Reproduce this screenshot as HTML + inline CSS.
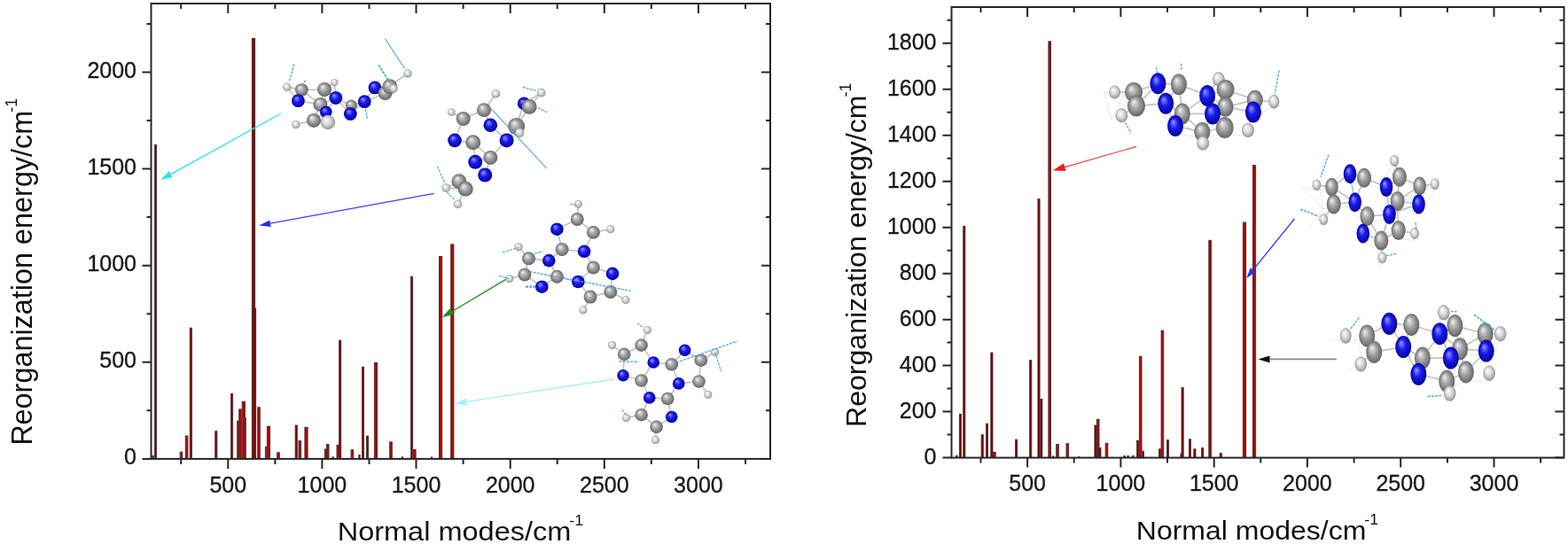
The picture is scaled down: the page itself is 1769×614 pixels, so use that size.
<!DOCTYPE html>
<html><head><meta charset="utf-8"><title>Reorganization energy</title>
<style>html,body{margin:0;padding:0;background:#fff}svg{display:block}</style>
</head><body>
<svg width="1769" height="614" viewBox="0 0 1769 614">
<defs>
<radialGradient id="gC" cx="0.5" cy="0.5" r="0.55" fx="0.35" fy="0.3">
<stop offset="0" stop-color="#f2f2f2"/><stop offset="0.45" stop-color="#a4a4a4"/><stop offset="1" stop-color="#5c5c5c"/></radialGradient>
<radialGradient id="gN" cx="0.5" cy="0.5" r="0.55" fx="0.35" fy="0.3">
<stop offset="0" stop-color="#9a9aff"/><stop offset="0.45" stop-color="#1a1af0"/><stop offset="1" stop-color="#00008c"/></radialGradient>
<radialGradient id="gH" cx="0.5" cy="0.5" r="0.55" fx="0.35" fy="0.3">
<stop offset="0" stop-color="#ffffff"/><stop offset="0.5" stop-color="#d8d8d8"/><stop offset="1" stop-color="#8a8a8a"/></radialGradient>
</defs>
<rect width="100%" height="100%" fill="#fff"/>
<style>.t{font-family:"Liberation Sans",Arial,sans-serif;font-size:25px;fill:#1a1a1a;stroke:#1a1a1a;stroke-width:0.35px}.ti{font-family:"Liberation Sans",Arial,sans-serif;font-size:32.5px;fill:#111}.sp{font-size:18px}.b{fill:#b80000;stroke:#4a3434;stroke-width:1}.bd{fill:#8a0404;stroke:#4a2828;stroke-width:1}.bn{fill:#7a0606;stroke:#4a2a2a;stroke-width:0.8}</style>
<rect x="171.80" y="514.40" width="1.40" height="3.50" class="bn"/>
<rect x="174.40" y="163.40" width="2.20" height="354.50" class="bn"/>
<rect x="203.20" y="510.20" width="2.60" height="7.70" class="b"/>
<rect x="209.30" y="492.00" width="2.60" height="25.90" class="b"/>
<rect x="214.20" y="370.10" width="2.20" height="147.80" class="bn"/>
<rect x="242.70" y="486.70" width="2.20" height="31.20" class="bn"/>
<rect x="260.50" y="444.30" width="2.20" height="73.60" class="bn"/>
<rect x="267.70" y="475.20" width="2.60" height="42.70" class="b"/>
<rect x="269.70" y="461.90" width="2.60" height="56.00" class="b"/>
<rect x="273.20" y="453.30" width="3.20" height="64.60" class="b"/>
<rect x="274.70" y="471.50" width="2.60" height="46.40" class="b"/>
<rect x="284.40" y="43.50" width="3.20" height="474.40" class="bd"/>
<rect x="285.40" y="348.00" width="3.20" height="169.90" class="bd"/>
<rect x="290.70" y="459.80" width="2.60" height="58.10" class="b"/>
<rect x="299.30" y="504.20" width="1.40" height="13.70" class="bn"/>
<rect x="301.40" y="481.20" width="3.20" height="36.70" class="b"/>
<rect x="312.70" y="510.80" width="2.60" height="7.10" class="b"/>
<rect x="333.10" y="480.00" width="2.20" height="37.90" class="bn"/>
<rect x="337.00" y="497.60" width="2.60" height="20.30" class="b"/>
<rect x="343.90" y="482.30" width="3.20" height="35.60" class="b"/>
<rect x="366.30" y="507.00" width="2.60" height="10.90" class="b"/>
<rect x="368.40" y="501.60" width="2.60" height="16.30" class="b"/>
<rect x="374.90" y="515.80" width="1.40" height="2.10" class="bn"/>
<rect x="380.00" y="502.40" width="2.60" height="15.50" class="b"/>
<rect x="382.60" y="384.10" width="2.20" height="133.80" class="bn"/>
<rect x="396.10" y="507.80" width="2.60" height="10.10" class="b"/>
<rect x="404.80" y="513.60" width="1.40" height="4.30" class="bn"/>
<rect x="408.40" y="414.20" width="2.20" height="103.70" class="bn"/>
<rect x="413.50" y="492.10" width="2.20" height="25.80" class="bn"/>
<rect x="422.40" y="409.40" width="3.20" height="108.50" class="b"/>
<rect x="439.70" y="498.90" width="2.60" height="19.00" class="b"/>
<rect x="453.20" y="515.80" width="1.40" height="2.10" class="bn"/>
<rect x="463.50" y="312.10" width="2.20" height="205.80" class="bn"/>
<rect x="466.50" y="507.50" width="2.60" height="10.40" class="b"/>
<rect x="486.30" y="515.90" width="1.40" height="2.00" class="bn"/>
<rect x="495.50" y="289.50" width="3.20" height="228.40" class="b"/>
<rect x="508.70" y="275.90" width="3.20" height="242.00" class="b"/>
<rect x="170.5" y="4.0" width="698.5" height="513.9" fill="none" stroke="#262626" stroke-width="2"/>
<path d="M257.3 517.9v11M257.3 4.0v11M363.4 517.9v11M363.4 4.0v11M469.5 517.9v11M469.5 4.0v11M575.7 517.9v11M575.7 4.0v11M681.8 517.9v11M681.8 4.0v11M787.9 517.9v11M787.9 4.0v11M204.2 517.9v6M204.2 4.0v6M310.4 517.9v6M310.4 4.0v6M416.5 517.9v6M416.5 4.0v6M522.6 517.9v6M522.6 4.0v6M628.7 517.9v6M628.7 4.0v6M734.8 517.9v6M734.8 4.0v6M841.0 517.9v6M841.0 4.0v6M170.5 517.9h-10M869.0 517.9h-10M170.5 408.8h-10M869.0 408.8h-10M170.5 299.7h-10M869.0 299.7h-10M170.5 190.6h-10M869.0 190.6h-10M170.5 81.5h-10M869.0 81.5h-10M170.5 463.3h-5M869.0 463.3h-5M170.5 354.2h-5M869.0 354.2h-5M170.5 245.1h-5M869.0 245.1h-5M170.5 136.0h-5M869.0 136.0h-5M170.5 26.9h-5M869.0 26.9h-5" stroke="#262626" stroke-width="2" fill="none"/>
<text x="257.3" y="555.7" text-anchor="middle" class="t">500</text>
<text x="363.4" y="555.7" text-anchor="middle" class="t">1000</text>
<text x="469.5" y="555.7" text-anchor="middle" class="t">1500</text>
<text x="575.7" y="555.7" text-anchor="middle" class="t">2000</text>
<text x="681.8" y="555.7" text-anchor="middle" class="t">2500</text>
<text x="787.9" y="555.7" text-anchor="middle" class="t">3000</text>
<text x="154" y="524.1" text-anchor="end" class="t">0</text>
<text x="154" y="415.0" text-anchor="end" class="t">500</text>
<text x="154" y="305.9" text-anchor="end" class="t">1000</text>
<text x="154" y="196.8" text-anchor="end" class="t">1500</text>
<text x="154" y="87.7" text-anchor="end" class="t">2000</text>
<rect x="1078.70" y="514.10" width="1.40" height="2.50" class="bn"/>
<rect x="1082.30" y="467.30" width="2.20" height="49.30" class="bn"/>
<rect x="1086.70" y="255.20" width="2.20" height="261.40" class="bn"/>
<rect x="1107.10" y="490.70" width="2.20" height="25.90" class="bn"/>
<rect x="1112.40" y="478.10" width="2.20" height="38.50" class="bn"/>
<rect x="1117.80" y="398.00" width="2.20" height="118.60" class="bn"/>
<rect x="1120.00" y="510.50" width="3.20" height="6.10" class="b"/>
<rect x="1145.50" y="496.10" width="2.20" height="20.50" class="bn"/>
<rect x="1161.60" y="406.60" width="2.20" height="110.00" class="bn"/>
<rect x="1170.90" y="224.60" width="2.20" height="292.00" class="bn"/>
<rect x="1173.70" y="450.40" width="2.20" height="66.20" class="bn"/>
<rect x="1182.90" y="46.80" width="2.60" height="469.80" class="b"/>
<rect x="1187.50" y="514.90" width="1.40" height="1.70" class="bn"/>
<rect x="1191.70" y="501.50" width="2.60" height="15.10" class="b"/>
<rect x="1203.00" y="500.70" width="2.60" height="15.90" class="b"/>
<rect x="1216.50" y="515.70" width="1.40" height="0.90" class="bn"/>
<rect x="1234.90" y="480.00" width="2.20" height="36.60" class="bn"/>
<rect x="1237.40" y="473.30" width="2.60" height="43.30" class="b"/>
<rect x="1239.80" y="505.40" width="2.20" height="11.20" class="bn"/>
<rect x="1247.20" y="500.30" width="2.60" height="16.30" class="b"/>
<rect x="1267.90" y="514.40" width="1.40" height="2.20" class="bn"/>
<rect x="1271.90" y="514.40" width="1.40" height="2.20" class="bn"/>
<rect x="1277.60" y="514.40" width="1.40" height="2.20" class="bn"/>
<rect x="1282.60" y="497.20" width="2.20" height="19.40" class="bn"/>
<rect x="1285.40" y="402.30" width="2.60" height="114.30" class="b"/>
<rect x="1288.80" y="509.20" width="1.80" height="7.40" class="bn"/>
<rect x="1307.60" y="506.80" width="2.20" height="9.80" class="bn"/>
<rect x="1310.10" y="373.10" width="2.60" height="143.50" class="b"/>
<rect x="1316.40" y="496.60" width="2.20" height="20.00" class="bn"/>
<rect x="1331.90" y="512.20" width="1.40" height="4.40" class="bn"/>
<rect x="1333.00" y="437.50" width="2.20" height="79.10" class="bn"/>
<rect x="1341.40" y="495.70" width="2.20" height="20.90" class="bn"/>
<rect x="1346.80" y="506.80" width="2.20" height="9.80" class="bn"/>
<rect x="1355.60" y="505.60" width="2.20" height="11.00" class="bn"/>
<rect x="1363.80" y="271.30" width="2.60" height="245.30" class="b"/>
<rect x="1376.10" y="511.60" width="2.20" height="5.00" class="bn"/>
<rect x="1402.40" y="251.10" width="3.20" height="265.50" class="b"/>
<rect x="1413.40" y="186.70" width="3.20" height="329.90" class="b"/>
<rect x="1073.5" y="8.0" width="691.0" height="508.6" fill="none" stroke="#262626" stroke-width="2"/>
<path d="M1159.1 516.6v11M1159.1 8.0v11M1264.4 516.6v11M1264.4 8.0v11M1369.7 516.6v11M1369.7 8.0v11M1474.9 516.6v11M1474.9 8.0v11M1580.2 516.6v11M1580.2 8.0v11M1685.5 516.6v11M1685.5 8.0v11M1106.5 516.6v6M1106.5 8.0v6M1211.7 516.6v6M1211.7 8.0v6M1317.0 516.6v6M1317.0 8.0v6M1422.3 516.6v6M1422.3 8.0v6M1527.6 516.6v6M1527.6 8.0v6M1632.9 516.6v6M1632.9 8.0v6M1738.1 516.6v6M1738.1 8.0v6M1073.5 516.6h-10M1764.5 516.6h-10M1073.5 464.6h-10M1764.5 464.6h-10M1073.5 412.6h-10M1764.5 412.6h-10M1073.5 360.7h-10M1764.5 360.7h-10M1073.5 308.7h-10M1764.5 308.7h-10M1073.5 256.7h-10M1764.5 256.7h-10M1073.5 204.7h-10M1764.5 204.7h-10M1073.5 152.7h-10M1764.5 152.7h-10M1073.5 100.8h-10M1764.5 100.8h-10M1073.5 48.8h-10M1764.5 48.8h-10M1073.5 490.6h-5M1764.5 490.6h-5M1073.5 438.6h-5M1764.5 438.6h-5M1073.5 386.6h-5M1764.5 386.6h-5M1073.5 334.7h-5M1764.5 334.7h-5M1073.5 282.7h-5M1764.5 282.7h-5M1073.5 230.7h-5M1764.5 230.7h-5M1073.5 178.7h-5M1764.5 178.7h-5M1073.5 126.8h-5M1764.5 126.8h-5M1073.5 74.8h-5M1764.5 74.8h-5M1073.5 22.8h-5M1764.5 22.8h-5" stroke="#262626" stroke-width="2" fill="none"/>
<text x="1159.1" y="554.4" text-anchor="middle" class="t">500</text>
<text x="1264.4" y="554.4" text-anchor="middle" class="t">1000</text>
<text x="1369.7" y="554.4" text-anchor="middle" class="t">1500</text>
<text x="1474.9" y="554.4" text-anchor="middle" class="t">2000</text>
<text x="1580.2" y="554.4" text-anchor="middle" class="t">2500</text>
<text x="1685.5" y="554.4" text-anchor="middle" class="t">3000</text>
<text x="1056.5" y="523.9" text-anchor="end" class="t">0</text>
<text x="1056.5" y="471.9" text-anchor="end" class="t">200</text>
<text x="1056.5" y="419.9" text-anchor="end" class="t">400</text>
<text x="1056.5" y="368.0" text-anchor="end" class="t">600</text>
<text x="1056.5" y="316.0" text-anchor="end" class="t">800</text>
<text x="1056.5" y="264.0" text-anchor="end" class="t">1000</text>
<text x="1056.5" y="212.0" text-anchor="end" class="t">1200</text>
<text x="1056.5" y="160.0" text-anchor="end" class="t">1400</text>
<text x="1056.5" y="108.1" text-anchor="end" class="t">1600</text>
<text x="1056.5" y="56.1" text-anchor="end" class="t">1800</text>
<text transform="translate(380.7,610) scale(1,0.91)" class="ti">Normal modes/cm<tspan dx="-2" dy="-18.7" class="sp">-1</tspan></text>
<text transform="translate(1281.8,609) scale(1,0.92)" class="ti" style="font-size:32px">Normal modes/cm<tspan dx="-2" dy="-18.5" class="sp">-1</tspan></text>
<text transform="translate(36.2,502.8) rotate(-90)" class="ti" style="font-size:32.4px">Reorganization energy/cm<tspan dx="-2" dy="-17" class="sp">-1</tspan></text>
<text transform="translate(977.2,482) rotate(-90)" class="ti" style="font-size:32.1px">Reorganization energy/cm<tspan dx="-2" dy="-17" class="sp">-1</tspan></text>
<line x1="460.0" y1="83.0" x2="441.0" y2="96.0" stroke="#c4c4c4" stroke-width="1.7" />
<line x1="323.7" y1="98.2" x2="340.3" y2="101.6" stroke="#c4c4c4" stroke-width="1.7"/>
<line x1="323.7" y1="98.2" x2="336.4" y2="113.7" stroke="#c4c4c4" stroke-width="1.7"/>
<line x1="340.3" y1="101.6" x2="336.4" y2="113.7" stroke="#c4c4c4" stroke-width="1.7"/>
<line x1="340.3" y1="101.6" x2="366.1" y2="101.0" stroke="#c4c4c4" stroke-width="1.7"/>
<line x1="340.3" y1="101.6" x2="361.4" y2="117.9" stroke="#c4c4c4" stroke-width="1.7"/>
<line x1="336.4" y1="113.7" x2="361.4" y2="117.9" stroke="#c4c4c4" stroke-width="1.7"/>
<line x1="366.1" y1="101.0" x2="377.3" y2="93.1" stroke="#c4c4c4" stroke-width="1.7"/>
<line x1="366.1" y1="101.0" x2="378.8" y2="110.5" stroke="#c4c4c4" stroke-width="1.7"/>
<line x1="366.1" y1="101.0" x2="361.4" y2="117.9" stroke="#c4c4c4" stroke-width="1.7"/>
<line x1="366.1" y1="101.0" x2="367.8" y2="126.4" stroke="#c4c4c4" stroke-width="1.7"/>
<line x1="377.3" y1="93.1" x2="378.8" y2="110.5" stroke="#c4c4c4" stroke-width="1.7"/>
<line x1="378.8" y1="110.5" x2="361.4" y2="117.9" stroke="#c4c4c4" stroke-width="1.7"/>
<line x1="378.8" y1="110.5" x2="367.8" y2="126.4" stroke="#c4c4c4" stroke-width="1.7"/>
<line x1="378.8" y1="110.5" x2="396.4" y2="119.0" stroke="#c4c4c4" stroke-width="1.7"/>
<line x1="378.8" y1="110.5" x2="395.3" y2="128.5" stroke="#c4c4c4" stroke-width="1.7"/>
<line x1="361.4" y1="117.9" x2="367.8" y2="126.4" stroke="#c4c4c4" stroke-width="1.7"/>
<line x1="361.4" y1="117.9" x2="354.0" y2="135.9" stroke="#c4c4c4" stroke-width="1.7"/>
<line x1="361.4" y1="117.9" x2="369.9" y2="138.0" stroke="#c4c4c4" stroke-width="1.7"/>
<line x1="367.8" y1="126.4" x2="354.0" y2="135.9" stroke="#c4c4c4" stroke-width="1.7"/>
<line x1="367.8" y1="126.4" x2="369.9" y2="138.0" stroke="#c4c4c4" stroke-width="1.7"/>
<line x1="354.0" y1="135.9" x2="333.9" y2="140.6" stroke="#c4c4c4" stroke-width="1.7"/>
<line x1="354.0" y1="135.9" x2="369.9" y2="138.0" stroke="#c4c4c4" stroke-width="1.7"/>
<line x1="396.4" y1="119.0" x2="395.3" y2="128.5" stroke="#c4c4c4" stroke-width="1.7"/>
<line x1="396.4" y1="119.0" x2="411.2" y2="114.7" stroke="#c4c4c4" stroke-width="1.7"/>
<line x1="395.3" y1="128.5" x2="411.2" y2="114.7" stroke="#c4c4c4" stroke-width="1.7"/>
<line x1="411.2" y1="114.7" x2="422.9" y2="98.9" stroke="#c4c4c4" stroke-width="1.7"/>
<line x1="411.2" y1="114.7" x2="434.5" y2="105.2" stroke="#c4c4c4" stroke-width="1.7"/>
<line x1="422.9" y1="98.9" x2="434.5" y2="105.2" stroke="#c4c4c4" stroke-width="1.7"/>
<line x1="422.9" y1="98.9" x2="439.8" y2="97.8" stroke="#c4c4c4" stroke-width="1.7"/>
<line x1="422.9" y1="98.9" x2="444.0" y2="100.0" stroke="#c4c4c4" stroke-width="1.7"/>
<line x1="434.5" y1="105.2" x2="439.8" y2="97.8" stroke="#c4c4c4" stroke-width="1.7"/>
<line x1="434.5" y1="105.2" x2="444.0" y2="100.0" stroke="#c4c4c4" stroke-width="1.7"/>
<line x1="439.8" y1="97.8" x2="444.0" y2="100.0" stroke="#c4c4c4" stroke-width="1.7"/>
<circle cx="323.7" cy="98.2" r="4.7" fill="url(#gH)"/>
<circle cx="340.3" cy="101.6" r="7.4" fill="url(#gC)"/>
<circle cx="336.4" cy="113.7" r="7.4" fill="url(#gN)"/>
<circle cx="366.1" cy="101.0" r="8.0" fill="url(#gC)"/>
<circle cx="377.3" cy="93.1" r="4.2" fill="url(#gH)"/>
<circle cx="378.8" cy="110.5" r="7.4" fill="url(#gN)"/>
<circle cx="361.4" cy="117.9" r="8.0" fill="url(#gC)"/>
<circle cx="367.8" cy="126.4" r="6.8" fill="url(#gN)"/>
<circle cx="354.0" cy="135.9" r="8.0" fill="url(#gC)"/>
<circle cx="333.9" cy="140.6" r="4.7" fill="url(#gH)"/>
<circle cx="369.9" cy="138.0" r="8.2" fill="url(#gH)"/>
<circle cx="396.4" cy="119.0" r="6.5" fill="url(#gC)"/>
<circle cx="395.3" cy="128.5" r="7.4" fill="url(#gN)"/>
<circle cx="411.2" cy="114.7" r="7.4" fill="url(#gN)"/>
<circle cx="422.9" cy="98.9" r="7.4" fill="url(#gN)"/>
<circle cx="434.5" cy="105.2" r="8.0" fill="url(#gC)"/>
<circle cx="439.8" cy="97.8" r="8.5" fill="url(#gC)"/>
<circle cx="444.0" cy="100.0" r="4.7" fill="url(#gH)"/>
<circle cx="460.0" cy="83.0" r="4.7" fill="url(#gH)"/>
<line x1="559.4" y1="105.9" x2="546.0" y2="124.2" stroke="#c4c4c4" stroke-width="1.7"/>
<line x1="509.3" y1="126.6" x2="522.7" y2="134.0" stroke="#c4c4c4" stroke-width="1.7"/>
<line x1="522.7" y1="134.0" x2="546.0" y2="124.2" stroke="#c4c4c4" stroke-width="1.7"/>
<line x1="522.7" y1="134.0" x2="513.0" y2="158.4" stroke="#c4c4c4" stroke-width="1.7"/>
<line x1="546.0" y1="124.2" x2="553.3" y2="141.3" stroke="#c4c4c4" stroke-width="1.7"/>
<line x1="553.3" y1="141.3" x2="571.6" y2="158.4" stroke="#c4c4c4" stroke-width="1.7"/>
<line x1="582.6" y1="142.5" x2="586.3" y2="149.8" stroke="#c4c4c4" stroke-width="1.7"/>
<line x1="582.6" y1="142.5" x2="591.1" y2="116.9" stroke="#c4c4c4" stroke-width="1.7"/>
<line x1="582.6" y1="142.5" x2="597.2" y2="120.5" stroke="#c4c4c4" stroke-width="1.7"/>
<line x1="582.6" y1="142.5" x2="571.6" y2="158.4" stroke="#c4c4c4" stroke-width="1.7"/>
<line x1="586.3" y1="149.8" x2="571.6" y2="158.4" stroke="#c4c4c4" stroke-width="1.7"/>
<line x1="591.1" y1="116.9" x2="597.2" y2="120.5" stroke="#c4c4c4" stroke-width="1.7"/>
<line x1="591.1" y1="116.9" x2="610.7" y2="104.7" stroke="#c4c4c4" stroke-width="1.7"/>
<line x1="597.2" y1="120.5" x2="610.7" y2="104.7" stroke="#c4c4c4" stroke-width="1.7"/>
<line x1="513.0" y1="158.4" x2="533.7" y2="160.8" stroke="#c4c4c4" stroke-width="1.7"/>
<line x1="533.7" y1="160.8" x2="553.3" y2="177.9" stroke="#c4c4c4" stroke-width="1.7"/>
<line x1="533.7" y1="160.8" x2="536.2" y2="182.8" stroke="#c4c4c4" stroke-width="1.7"/>
<line x1="571.6" y1="158.4" x2="553.3" y2="177.9" stroke="#c4c4c4" stroke-width="1.7"/>
<line x1="553.3" y1="177.9" x2="536.2" y2="182.8" stroke="#c4c4c4" stroke-width="1.7"/>
<line x1="553.3" y1="177.9" x2="547.2" y2="197.5" stroke="#c4c4c4" stroke-width="1.7"/>
<line x1="536.2" y1="182.8" x2="547.2" y2="197.5" stroke="#c4c4c4" stroke-width="1.7"/>
<line x1="517.9" y1="204.8" x2="525.2" y2="213.3" stroke="#c4c4c4" stroke-width="1.7"/>
<line x1="517.9" y1="204.8" x2="503.2" y2="212.1" stroke="#c4c4c4" stroke-width="1.7"/>
<line x1="525.2" y1="213.3" x2="503.2" y2="212.1" stroke="#c4c4c4" stroke-width="1.7"/>
<line x1="525.2" y1="213.3" x2="516.6" y2="230.4" stroke="#c4c4c4" stroke-width="1.7"/>
<circle cx="559.4" cy="105.9" r="4.9" fill="url(#gH)"/>
<circle cx="509.3" cy="126.6" r="4.4" fill="url(#gH)"/>
<circle cx="522.7" cy="134.0" r="8.0" fill="url(#gC)"/>
<circle cx="546.0" cy="124.2" r="8.0" fill="url(#gC)"/>
<circle cx="553.3" cy="141.3" r="7.8" fill="url(#gN)"/>
<circle cx="582.6" cy="142.5" r="9.5" fill="url(#gC)"/>
<circle cx="586.3" cy="149.8" r="5.2" fill="url(#gH)"/>
<circle cx="591.1" cy="116.9" r="7.3" fill="url(#gN)"/>
<circle cx="597.2" cy="120.5" r="8.5" fill="url(#gC)"/>
<circle cx="610.7" cy="104.7" r="4.9" fill="url(#gH)"/>
<circle cx="513.0" cy="158.4" r="7.8" fill="url(#gN)"/>
<circle cx="533.7" cy="160.8" r="8.5" fill="url(#gC)"/>
<circle cx="571.6" cy="158.4" r="8.0" fill="url(#gN)"/>
<circle cx="553.3" cy="177.9" r="8.0" fill="url(#gC)"/>
<circle cx="536.2" cy="182.8" r="8.0" fill="url(#gN)"/>
<circle cx="547.2" cy="197.5" r="8.0" fill="url(#gN)"/>
<circle cx="517.9" cy="204.8" r="8.5" fill="url(#gC)"/>
<circle cx="525.2" cy="213.3" r="8.5" fill="url(#gC)"/>
<circle cx="503.2" cy="212.1" r="4.9" fill="url(#gH)"/>
<circle cx="516.6" cy="230.4" r="4.9" fill="url(#gH)"/>
<line x1="652.3" y1="230.3" x2="651.2" y2="247.4" stroke="#c4c4c4" stroke-width="1.7"/>
<line x1="651.2" y1="247.4" x2="628.4" y2="258.7" stroke="#c4c4c4" stroke-width="1.7"/>
<line x1="651.2" y1="247.4" x2="669.4" y2="262.2" stroke="#c4c4c4" stroke-width="1.7"/>
<line x1="628.4" y1="258.7" x2="634.1" y2="281.5" stroke="#c4c4c4" stroke-width="1.7"/>
<line x1="669.4" y1="262.2" x2="688.8" y2="258.7" stroke="#c4c4c4" stroke-width="1.7"/>
<line x1="669.4" y1="262.2" x2="659.1" y2="283.8" stroke="#c4c4c4" stroke-width="1.7"/>
<line x1="634.1" y1="281.5" x2="659.1" y2="283.8" stroke="#c4c4c4" stroke-width="1.7"/>
<line x1="634.1" y1="281.5" x2="619.3" y2="294.1" stroke="#c4c4c4" stroke-width="1.7"/>
<line x1="659.1" y1="283.8" x2="669.4" y2="302.0" stroke="#c4c4c4" stroke-width="1.7"/>
<line x1="585.1" y1="278.8" x2="596.5" y2="291.8" stroke="#c4c4c4" stroke-width="1.7"/>
<line x1="596.5" y1="291.8" x2="619.3" y2="294.1" stroke="#c4c4c4" stroke-width="1.7"/>
<line x1="596.5" y1="291.8" x2="591.9" y2="310.0" stroke="#c4c4c4" stroke-width="1.7"/>
<line x1="619.3" y1="294.1" x2="628.4" y2="312.3" stroke="#c4c4c4" stroke-width="1.7"/>
<line x1="669.4" y1="302.0" x2="691.0" y2="308.9" stroke="#c4c4c4" stroke-width="1.7"/>
<line x1="669.4" y1="302.0" x2="652.3" y2="318.0" stroke="#c4c4c4" stroke-width="1.7"/>
<line x1="691.0" y1="308.9" x2="688.8" y2="329.4" stroke="#c4c4c4" stroke-width="1.7"/>
<line x1="591.9" y1="310.0" x2="574.8" y2="314.6" stroke="#c4c4c4" stroke-width="1.7"/>
<line x1="591.9" y1="310.0" x2="611.3" y2="323.7" stroke="#c4c4c4" stroke-width="1.7"/>
<line x1="628.4" y1="312.3" x2="652.3" y2="318.0" stroke="#c4c4c4" stroke-width="1.7"/>
<line x1="628.4" y1="312.3" x2="611.3" y2="323.7" stroke="#c4c4c4" stroke-width="1.7"/>
<line x1="652.3" y1="318.0" x2="666.0" y2="335.1" stroke="#c4c4c4" stroke-width="1.7"/>
<line x1="666.0" y1="335.1" x2="688.8" y2="329.4" stroke="#c4c4c4" stroke-width="1.7"/>
<line x1="666.0" y1="335.1" x2="658.0" y2="349.9" stroke="#c4c4c4" stroke-width="1.7"/>
<line x1="688.8" y1="329.4" x2="705.9" y2="338.5" stroke="#c4c4c4" stroke-width="1.7"/>
<circle cx="652.3" cy="230.3" r="4.6" fill="url(#gH)"/>
<circle cx="651.2" cy="247.4" r="7.5" fill="url(#gC)"/>
<circle cx="628.4" cy="258.7" r="7.3" fill="url(#gN)"/>
<circle cx="669.4" cy="262.2" r="7.5" fill="url(#gC)"/>
<circle cx="688.8" cy="258.7" r="4.6" fill="url(#gH)"/>
<circle cx="634.1" cy="281.5" r="7.5" fill="url(#gC)"/>
<circle cx="659.1" cy="283.8" r="7.3" fill="url(#gN)"/>
<circle cx="585.1" cy="278.8" r="4.6" fill="url(#gH)"/>
<circle cx="596.5" cy="291.8" r="7.5" fill="url(#gC)"/>
<circle cx="619.3" cy="294.1" r="7.3" fill="url(#gN)"/>
<circle cx="669.4" cy="302.0" r="7.5" fill="url(#gC)"/>
<circle cx="691.0" cy="308.9" r="7.3" fill="url(#gN)"/>
<circle cx="591.9" cy="310.0" r="7.5" fill="url(#gC)"/>
<circle cx="574.8" cy="314.6" r="4.6" fill="url(#gH)"/>
<circle cx="628.4" cy="312.3" r="7.5" fill="url(#gC)"/>
<circle cx="652.3" cy="318.0" r="7.3" fill="url(#gN)"/>
<circle cx="611.3" cy="323.7" r="7.3" fill="url(#gN)"/>
<circle cx="666.0" cy="335.1" r="7.5" fill="url(#gC)"/>
<circle cx="688.8" cy="329.4" r="7.5" fill="url(#gC)"/>
<circle cx="705.9" cy="338.5" r="4.6" fill="url(#gH)"/>
<circle cx="658.0" cy="349.9" r="4.6" fill="url(#gH)"/>
<line x1="730.4" y1="372.5" x2="723.6" y2="389.6" stroke="#c4c4c4" stroke-width="1.7"/>
<line x1="690.5" y1="389.6" x2="704.2" y2="399.9" stroke="#c4c4c4" stroke-width="1.7"/>
<line x1="723.6" y1="389.6" x2="704.2" y2="399.9" stroke="#c4c4c4" stroke-width="1.7"/>
<line x1="723.6" y1="389.6" x2="737.2" y2="409.0" stroke="#c4c4c4" stroke-width="1.7"/>
<line x1="704.2" y1="399.9" x2="703.0" y2="423.8" stroke="#c4c4c4" stroke-width="1.7"/>
<line x1="772.6" y1="395.3" x2="757.7" y2="411.3" stroke="#c4c4c4" stroke-width="1.7"/>
<line x1="772.6" y1="395.3" x2="790.8" y2="406.7" stroke="#c4c4c4" stroke-width="1.7"/>
<line x1="737.2" y1="409.0" x2="757.7" y2="411.3" stroke="#c4c4c4" stroke-width="1.7"/>
<line x1="737.2" y1="409.0" x2="723.6" y2="429.5" stroke="#c4c4c4" stroke-width="1.7"/>
<line x1="757.7" y1="411.3" x2="765.7" y2="432.9" stroke="#c4c4c4" stroke-width="1.7"/>
<line x1="790.8" y1="406.7" x2="806.7" y2="397.6" stroke="#c4c4c4" stroke-width="1.7"/>
<line x1="790.8" y1="406.7" x2="788.5" y2="430.6" stroke="#c4c4c4" stroke-width="1.7"/>
<line x1="703.0" y1="423.8" x2="723.6" y2="429.5" stroke="#c4c4c4" stroke-width="1.7"/>
<line x1="723.6" y1="429.5" x2="732.7" y2="448.9" stroke="#c4c4c4" stroke-width="1.7"/>
<line x1="765.7" y1="432.9" x2="788.5" y2="430.6" stroke="#c4c4c4" stroke-width="1.7"/>
<line x1="765.7" y1="432.9" x2="753.2" y2="450.0" stroke="#c4c4c4" stroke-width="1.7"/>
<line x1="788.5" y1="430.6" x2="798.8" y2="445.5" stroke="#c4c4c4" stroke-width="1.7"/>
<line x1="732.7" y1="448.9" x2="753.2" y2="450.0" stroke="#c4c4c4" stroke-width="1.7"/>
<line x1="732.7" y1="448.9" x2="723.6" y2="468.2" stroke="#c4c4c4" stroke-width="1.7"/>
<line x1="753.2" y1="450.0" x2="757.7" y2="470.5" stroke="#c4c4c4" stroke-width="1.7"/>
<line x1="723.6" y1="468.2" x2="706.5" y2="471.7" stroke="#c4c4c4" stroke-width="1.7"/>
<line x1="723.6" y1="468.2" x2="740.6" y2="481.9" stroke="#c4c4c4" stroke-width="1.7"/>
<line x1="757.7" y1="470.5" x2="740.6" y2="481.9" stroke="#c4c4c4" stroke-width="1.7"/>
<line x1="740.6" y1="481.9" x2="739.5" y2="496.7" stroke="#c4c4c4" stroke-width="1.7"/>
<circle cx="730.4" cy="372.5" r="4.6" fill="url(#gH)"/>
<circle cx="690.5" cy="389.6" r="4.6" fill="url(#gH)"/>
<circle cx="723.6" cy="389.6" r="7.3" fill="url(#gC)"/>
<circle cx="704.2" cy="399.9" r="7.3" fill="url(#gC)"/>
<circle cx="772.6" cy="395.3" r="6.8" fill="url(#gN)"/>
<circle cx="737.2" cy="409.0" r="6.8" fill="url(#gN)"/>
<circle cx="757.7" cy="411.3" r="7.3" fill="url(#gC)"/>
<circle cx="790.8" cy="406.7" r="7.3" fill="url(#gC)"/>
<circle cx="806.7" cy="397.6" r="4.6" fill="url(#gH)"/>
<circle cx="703.0" cy="423.8" r="6.8" fill="url(#gN)"/>
<circle cx="723.6" cy="429.5" r="7.3" fill="url(#gC)"/>
<circle cx="765.7" cy="432.9" r="6.8" fill="url(#gN)"/>
<circle cx="788.5" cy="430.6" r="7.3" fill="url(#gC)"/>
<circle cx="798.8" cy="445.5" r="4.6" fill="url(#gH)"/>
<circle cx="732.7" cy="448.9" r="6.8" fill="url(#gN)"/>
<circle cx="753.2" cy="450.0" r="7.3" fill="url(#gC)"/>
<circle cx="723.6" cy="468.2" r="7.3" fill="url(#gC)"/>
<circle cx="706.5" cy="471.7" r="4.6" fill="url(#gH)"/>
<circle cx="757.7" cy="470.5" r="6.8" fill="url(#gN)"/>
<circle cx="740.6" cy="481.9" r="7.3" fill="url(#gC)"/>
<circle cx="739.5" cy="496.7" r="4.6" fill="url(#gH)"/>
<line x1="1245.4" y1="104.5" x2="1269.1" y2="104.5" stroke="#cfd6de" stroke-width="0.8" stroke-dasharray="2 1"/>
<line x1="1245.4" y1="104.5" x2="1272.3" y2="122.4" stroke="#cfd6de" stroke-width="0.8" stroke-dasharray="2 1"/>
<line x1="1245.4" y1="104.5" x2="1254.0" y2="134.7" stroke="#cfd6de" stroke-width="0.8" stroke-dasharray="2 1"/>
<line x1="1269.1" y1="104.5" x2="1272.3" y2="122.4" stroke="#cfd6de" stroke-width="0.8" stroke-dasharray="2 1"/>
<line x1="1269.1" y1="104.5" x2="1254.0" y2="134.7" stroke="#cfd6de" stroke-width="0.8" stroke-dasharray="2 1"/>
<line x1="1269.1" y1="104.5" x2="1299.1" y2="93.2" stroke="#cfd6de" stroke-width="0.8" stroke-dasharray="2 1"/>
<line x1="1272.3" y1="122.4" x2="1254.0" y2="134.7" stroke="#cfd6de" stroke-width="0.8" stroke-dasharray="2 1"/>
<line x1="1299.1" y1="93.2" x2="1308.8" y2="119.1" stroke="#cfd6de" stroke-width="0.8" stroke-dasharray="2 1"/>
<line x1="1299.1" y1="93.2" x2="1325.0" y2="94.4" stroke="#cfd6de" stroke-width="0.8" stroke-dasharray="2 1"/>
<line x1="1308.8" y1="119.1" x2="1325.0" y2="94.4" stroke="#cfd6de" stroke-width="0.8" stroke-dasharray="2 1"/>
<line x1="1308.8" y1="119.1" x2="1329.2" y2="132.5" stroke="#cfd6de" stroke-width="0.8" stroke-dasharray="2 1"/>
<line x1="1308.8" y1="119.1" x2="1320.7" y2="148.3" stroke="#cfd6de" stroke-width="0.8" stroke-dasharray="2 1"/>
<line x1="1329.2" y1="132.5" x2="1320.7" y2="148.3" stroke="#cfd6de" stroke-width="0.8" stroke-dasharray="2 1"/>
<line x1="1329.2" y1="132.5" x2="1354.0" y2="156.1" stroke="#cfd6de" stroke-width="0.8" stroke-dasharray="2 1"/>
<line x1="1320.7" y1="148.3" x2="1354.0" y2="156.1" stroke="#cfd6de" stroke-width="0.8" stroke-dasharray="2 1"/>
<line x1="1374.3" y1="87.6" x2="1382.9" y2="101.0" stroke="#cfd6de" stroke-width="0.8" stroke-dasharray="2 1"/>
<line x1="1374.3" y1="87.6" x2="1360.4" y2="109.0" stroke="#cfd6de" stroke-width="0.8" stroke-dasharray="2 1"/>
<line x1="1382.9" y1="101.0" x2="1360.4" y2="109.0" stroke="#cfd6de" stroke-width="0.8" stroke-dasharray="2 1"/>
<line x1="1382.9" y1="101.0" x2="1382.9" y2="123.6" stroke="#cfd6de" stroke-width="0.8" stroke-dasharray="2 1"/>
<line x1="1360.4" y1="109.0" x2="1382.9" y2="123.6" stroke="#cfd6de" stroke-width="0.8" stroke-dasharray="2 1"/>
<line x1="1360.4" y1="109.0" x2="1366.9" y2="132.5" stroke="#cfd6de" stroke-width="0.8" stroke-dasharray="2 1"/>
<line x1="1382.9" y1="123.6" x2="1366.9" y2="132.5" stroke="#cfd6de" stroke-width="0.8" stroke-dasharray="2 1"/>
<line x1="1382.9" y1="123.6" x2="1381.9" y2="150.5" stroke="#cfd6de" stroke-width="0.8" stroke-dasharray="2 1"/>
<line x1="1366.9" y1="132.5" x2="1381.9" y2="150.5" stroke="#cfd6de" stroke-width="0.8" stroke-dasharray="2 1"/>
<line x1="1366.9" y1="132.5" x2="1354.0" y2="156.1" stroke="#cfd6de" stroke-width="0.8" stroke-dasharray="2 1"/>
<line x1="1381.9" y1="150.5" x2="1354.0" y2="156.1" stroke="#cfd6de" stroke-width="0.8" stroke-dasharray="2 1"/>
<line x1="1381.9" y1="150.5" x2="1355.0" y2="170.7" stroke="#cfd6de" stroke-width="0.8" stroke-dasharray="2 1"/>
<line x1="1381.9" y1="150.5" x2="1410.9" y2="153.9" stroke="#cfd6de" stroke-width="0.8" stroke-dasharray="2 1"/>
<line x1="1354.0" y1="156.1" x2="1355.0" y2="170.7" stroke="#cfd6de" stroke-width="0.8" stroke-dasharray="2 1"/>
<line x1="1419.4" y1="114.6" x2="1417.4" y2="130.2" stroke="#cfd6de" stroke-width="0.8" stroke-dasharray="2 1"/>
<line x1="1419.4" y1="114.6" x2="1443.1" y2="116.8" stroke="#cfd6de" stroke-width="0.8" stroke-dasharray="2 1"/>
<line x1="1417.4" y1="130.2" x2="1410.9" y2="153.9" stroke="#cfd6de" stroke-width="0.8" stroke-dasharray="2 1"/>
<line x1="1417.4" y1="130.2" x2="1443.1" y2="116.8" stroke="#cfd6de" stroke-width="0.8" stroke-dasharray="2 1"/>
<line x1="1571.1" y1="181.6" x2="1577.7" y2="201.7" stroke="#cfd6de" stroke-width="0.8" stroke-dasharray="2 1"/>
<line x1="1571.1" y1="181.6" x2="1560.5" y2="214.2" stroke="#cfd6de" stroke-width="0.8" stroke-dasharray="2 1"/>
<line x1="1513.4" y1="197.8" x2="1531.8" y2="202.9" stroke="#cfd6de" stroke-width="0.8" stroke-dasharray="2 1"/>
<line x1="1513.4" y1="197.8" x2="1489.8" y2="214.2" stroke="#cfd6de" stroke-width="0.8" stroke-dasharray="2 1"/>
<line x1="1531.8" y1="202.9" x2="1560.5" y2="214.2" stroke="#cfd6de" stroke-width="0.8" stroke-dasharray="2 1"/>
<line x1="1531.8" y1="202.9" x2="1519.9" y2="233.0" stroke="#cfd6de" stroke-width="0.8" stroke-dasharray="2 1"/>
<line x1="1577.7" y1="201.7" x2="1560.5" y2="214.2" stroke="#cfd6de" stroke-width="0.8" stroke-dasharray="2 1"/>
<line x1="1577.7" y1="201.7" x2="1603.9" y2="212.9" stroke="#cfd6de" stroke-width="0.8" stroke-dasharray="2 1"/>
<line x1="1577.7" y1="201.7" x2="1575.0" y2="231.7" stroke="#cfd6de" stroke-width="0.8" stroke-dasharray="2 1"/>
<line x1="1560.5" y1="214.2" x2="1575.0" y2="231.7" stroke="#cfd6de" stroke-width="0.8" stroke-dasharray="2 1"/>
<line x1="1560.5" y1="214.2" x2="1564.6" y2="248.1" stroke="#cfd6de" stroke-width="0.8" stroke-dasharray="2 1"/>
<line x1="1603.9" y1="212.9" x2="1623.6" y2="210.4" stroke="#cfd6de" stroke-width="0.8" stroke-dasharray="2 1"/>
<line x1="1603.9" y1="212.9" x2="1575.0" y2="231.7" stroke="#cfd6de" stroke-width="0.8" stroke-dasharray="2 1"/>
<line x1="1603.9" y1="212.9" x2="1602.5" y2="235.5" stroke="#cfd6de" stroke-width="0.8" stroke-dasharray="2 1"/>
<line x1="1623.6" y1="210.4" x2="1602.5" y2="235.5" stroke="#cfd6de" stroke-width="0.8" stroke-dasharray="2 1"/>
<line x1="1470.1" y1="211.7" x2="1489.8" y2="214.2" stroke="#cfd6de" stroke-width="0.8" stroke-dasharray="2 1"/>
<line x1="1470.1" y1="211.7" x2="1492.3" y2="235.5" stroke="#cfd6de" stroke-width="0.8" stroke-dasharray="2 1"/>
<line x1="1489.8" y1="214.2" x2="1492.3" y2="235.5" stroke="#cfd6de" stroke-width="0.8" stroke-dasharray="2 1"/>
<line x1="1492.3" y1="235.5" x2="1519.9" y2="233.0" stroke="#cfd6de" stroke-width="0.8" stroke-dasharray="2 1"/>
<line x1="1492.3" y1="235.5" x2="1479.2" y2="254.4" stroke="#cfd6de" stroke-width="0.8" stroke-dasharray="2 1"/>
<line x1="1519.9" y1="233.0" x2="1535.7" y2="250.5" stroke="#cfd6de" stroke-width="0.8" stroke-dasharray="2 1"/>
<line x1="1575.0" y1="231.7" x2="1602.5" y2="235.5" stroke="#cfd6de" stroke-width="0.8" stroke-dasharray="2 1"/>
<line x1="1575.0" y1="231.7" x2="1564.6" y2="248.1" stroke="#cfd6de" stroke-width="0.8" stroke-dasharray="2 1"/>
<line x1="1535.7" y1="250.5" x2="1564.6" y2="248.1" stroke="#cfd6de" stroke-width="0.8" stroke-dasharray="2 1"/>
<line x1="1535.7" y1="250.5" x2="1530.4" y2="271.9" stroke="#cfd6de" stroke-width="0.8" stroke-dasharray="2 1"/>
<line x1="1564.6" y1="248.1" x2="1576.3" y2="268.1" stroke="#cfd6de" stroke-width="0.8" stroke-dasharray="2 1"/>
<line x1="1564.6" y1="248.1" x2="1554.0" y2="280.7" stroke="#cfd6de" stroke-width="0.8" stroke-dasharray="2 1"/>
<line x1="1530.4" y1="271.9" x2="1554.0" y2="280.7" stroke="#cfd6de" stroke-width="0.8" stroke-dasharray="2 1"/>
<line x1="1576.3" y1="268.1" x2="1597.3" y2="271.9" stroke="#cfd6de" stroke-width="0.8" stroke-dasharray="2 1"/>
<line x1="1576.3" y1="268.1" x2="1554.0" y2="280.7" stroke="#cfd6de" stroke-width="0.8" stroke-dasharray="2 1"/>
<line x1="1554.0" y1="280.7" x2="1555.4" y2="302.0" stroke="#cfd6de" stroke-width="0.8" stroke-dasharray="2 1"/>
<line x1="1501.6" y1="383.2" x2="1528.4" y2="383.2" stroke="#cfd6de" stroke-width="0.8" stroke-dasharray="2 1"/>
<line x1="1528.4" y1="383.2" x2="1537.4" y2="403.7" stroke="#cfd6de" stroke-width="0.8" stroke-dasharray="2 1"/>
<line x1="1528.4" y1="383.2" x2="1556.6" y2="367.8" stroke="#cfd6de" stroke-width="0.8" stroke-dasharray="2 1"/>
<line x1="1537.4" y1="403.7" x2="1520.7" y2="418.9" stroke="#cfd6de" stroke-width="0.8" stroke-dasharray="2 1"/>
<line x1="1556.6" y1="367.8" x2="1584.6" y2="369.2" stroke="#cfd6de" stroke-width="0.8" stroke-dasharray="2 1"/>
<line x1="1574.4" y1="397.3" x2="1584.6" y2="369.2" stroke="#cfd6de" stroke-width="0.8" stroke-dasharray="2 1"/>
<line x1="1574.4" y1="397.3" x2="1598.7" y2="411.3" stroke="#cfd6de" stroke-width="0.8" stroke-dasharray="2 1"/>
<line x1="1598.7" y1="411.3" x2="1593.5" y2="431.7" stroke="#cfd6de" stroke-width="0.8" stroke-dasharray="2 1"/>
<line x1="1625.4" y1="353.8" x2="1639.5" y2="370.4" stroke="#cfd6de" stroke-width="0.8" stroke-dasharray="2 1"/>
<line x1="1625.4" y1="353.8" x2="1620.4" y2="380.6" stroke="#cfd6de" stroke-width="0.8" stroke-dasharray="2 1"/>
<line x1="1639.5" y1="370.4" x2="1620.4" y2="380.6" stroke="#cfd6de" stroke-width="0.8" stroke-dasharray="2 1"/>
<line x1="1639.5" y1="370.4" x2="1645.9" y2="399.8" stroke="#cfd6de" stroke-width="0.8" stroke-dasharray="2 1"/>
<line x1="1620.4" y1="380.6" x2="1645.9" y2="399.8" stroke="#cfd6de" stroke-width="0.8" stroke-dasharray="2 1"/>
<line x1="1645.9" y1="399.8" x2="1634.4" y2="411.3" stroke="#cfd6de" stroke-width="0.8" stroke-dasharray="2 1"/>
<line x1="1645.9" y1="399.8" x2="1679.1" y2="402.3" stroke="#cfd6de" stroke-width="0.8" stroke-dasharray="2 1"/>
<line x1="1645.9" y1="399.8" x2="1653.5" y2="429.1" stroke="#cfd6de" stroke-width="0.8" stroke-dasharray="2 1"/>
<line x1="1634.4" y1="411.3" x2="1653.5" y2="429.1" stroke="#cfd6de" stroke-width="0.8" stroke-dasharray="2 1"/>
<line x1="1634.4" y1="411.3" x2="1629.2" y2="440.6" stroke="#cfd6de" stroke-width="0.8" stroke-dasharray="2 1"/>
<line x1="1677.8" y1="380.6" x2="1697.0" y2="380.6" stroke="#cfd6de" stroke-width="0.8" stroke-dasharray="2 1"/>
<line x1="1677.8" y1="380.6" x2="1679.1" y2="402.3" stroke="#cfd6de" stroke-width="0.8" stroke-dasharray="2 1"/>
<line x1="1697.0" y1="380.6" x2="1679.1" y2="402.3" stroke="#cfd6de" stroke-width="0.8" stroke-dasharray="2 1"/>
<line x1="1679.1" y1="402.3" x2="1682.9" y2="430.5" stroke="#cfd6de" stroke-width="0.8" stroke-dasharray="2 1"/>
<line x1="1653.5" y1="429.1" x2="1629.2" y2="440.6" stroke="#cfd6de" stroke-width="0.8" stroke-dasharray="2 1"/>
<line x1="1653.5" y1="429.1" x2="1682.9" y2="430.5" stroke="#cfd6de" stroke-width="0.8" stroke-dasharray="2 1"/>
<line x1="1629.2" y1="440.6" x2="1633.2" y2="456.0" stroke="#cfd6de" stroke-width="0.8" stroke-dasharray="2 1"/>
<line x1="1257.6" y1="104.0" x2="1279.1" y2="104.0" stroke="#c4c4c4" stroke-width="1.7"/>
<line x1="1279.1" y1="104.0" x2="1282.0" y2="119.6" stroke="#c4c4c4" stroke-width="1.7"/>
<line x1="1279.1" y1="104.0" x2="1306.4" y2="94.2" stroke="#c4c4c4" stroke-width="1.7"/>
<line x1="1282.0" y1="119.6" x2="1265.4" y2="130.3" stroke="#c4c4c4" stroke-width="1.7"/>
<line x1="1282.0" y1="119.6" x2="1306.4" y2="94.2" stroke="#c4c4c4" stroke-width="1.7"/>
<line x1="1282.0" y1="119.6" x2="1315.2" y2="116.7" stroke="#c4c4c4" stroke-width="1.7"/>
<line x1="1306.4" y1="94.2" x2="1315.2" y2="116.7" stroke="#c4c4c4" stroke-width="1.7"/>
<line x1="1306.4" y1="94.2" x2="1329.9" y2="95.2" stroke="#c4c4c4" stroke-width="1.7"/>
<line x1="1315.2" y1="116.7" x2="1329.9" y2="95.2" stroke="#c4c4c4" stroke-width="1.7"/>
<line x1="1315.2" y1="116.7" x2="1333.8" y2="128.4" stroke="#c4c4c4" stroke-width="1.7"/>
<line x1="1315.2" y1="116.7" x2="1326.0" y2="142.1" stroke="#c4c4c4" stroke-width="1.7"/>
<line x1="1329.9" y1="95.2" x2="1333.8" y2="128.4" stroke="#c4c4c4" stroke-width="1.7"/>
<line x1="1329.9" y1="95.2" x2="1362.1" y2="107.9" stroke="#c4c4c4" stroke-width="1.7"/>
<line x1="1333.8" y1="128.4" x2="1326.0" y2="142.1" stroke="#c4c4c4" stroke-width="1.7"/>
<line x1="1333.8" y1="128.4" x2="1362.1" y2="107.9" stroke="#c4c4c4" stroke-width="1.7"/>
<line x1="1333.8" y1="128.4" x2="1368.0" y2="128.4" stroke="#c4c4c4" stroke-width="1.7"/>
<line x1="1333.8" y1="128.4" x2="1356.3" y2="148.9" stroke="#c4c4c4" stroke-width="1.7"/>
<line x1="1326.0" y1="142.1" x2="1356.3" y2="148.9" stroke="#c4c4c4" stroke-width="1.7"/>
<line x1="1374.8" y1="89.3" x2="1382.6" y2="101.0" stroke="#c4c4c4" stroke-width="1.7"/>
<line x1="1374.8" y1="89.3" x2="1362.1" y2="107.9" stroke="#c4c4c4" stroke-width="1.7"/>
<line x1="1382.6" y1="101.0" x2="1362.1" y2="107.9" stroke="#c4c4c4" stroke-width="1.7"/>
<line x1="1382.6" y1="101.0" x2="1382.6" y2="120.6" stroke="#c4c4c4" stroke-width="1.7"/>
<line x1="1382.6" y1="101.0" x2="1368.0" y2="128.4" stroke="#c4c4c4" stroke-width="1.7"/>
<line x1="1382.6" y1="101.0" x2="1415.8" y2="112.8" stroke="#c4c4c4" stroke-width="1.7"/>
<line x1="1362.1" y1="107.9" x2="1382.6" y2="120.6" stroke="#c4c4c4" stroke-width="1.7"/>
<line x1="1362.1" y1="107.9" x2="1368.0" y2="128.4" stroke="#c4c4c4" stroke-width="1.7"/>
<line x1="1382.6" y1="120.6" x2="1368.0" y2="128.4" stroke="#c4c4c4" stroke-width="1.7"/>
<line x1="1382.6" y1="120.6" x2="1381.7" y2="144.0" stroke="#c4c4c4" stroke-width="1.7"/>
<line x1="1382.6" y1="120.6" x2="1415.8" y2="112.8" stroke="#c4c4c4" stroke-width="1.7"/>
<line x1="1382.6" y1="120.6" x2="1413.9" y2="126.4" stroke="#c4c4c4" stroke-width="1.7"/>
<line x1="1368.0" y1="128.4" x2="1381.7" y2="144.0" stroke="#c4c4c4" stroke-width="1.7"/>
<line x1="1368.0" y1="128.4" x2="1356.3" y2="148.9" stroke="#c4c4c4" stroke-width="1.7"/>
<line x1="1381.7" y1="144.0" x2="1356.3" y2="148.9" stroke="#c4c4c4" stroke-width="1.7"/>
<line x1="1356.3" y1="148.9" x2="1357.2" y2="161.6" stroke="#c4c4c4" stroke-width="1.7"/>
<line x1="1415.8" y1="112.8" x2="1413.9" y2="126.4" stroke="#c4c4c4" stroke-width="1.7"/>
<line x1="1415.8" y1="112.8" x2="1437.3" y2="114.7" stroke="#c4c4c4" stroke-width="1.7"/>
<line x1="1413.9" y1="126.4" x2="1408.0" y2="147.0" stroke="#c4c4c4" stroke-width="1.7"/>
<ellipse cx="1257.6" cy="104.0" rx="6.5" ry="7.6" fill="url(#gH)"/>
<ellipse cx="1279.1" cy="104.0" rx="10.0" ry="11.0" fill="url(#gC)"/>
<ellipse cx="1282.0" cy="119.6" rx="10.0" ry="12.0" fill="url(#gC)"/>
<ellipse cx="1265.4" cy="130.3" rx="7.0" ry="8.0" fill="url(#gH)"/>
<ellipse cx="1306.4" cy="94.2" rx="9.0" ry="12.0" fill="url(#gN)"/>
<ellipse cx="1315.2" cy="116.7" rx="9.0" ry="12.0" fill="url(#gN)"/>
<ellipse cx="1329.9" cy="95.2" rx="9.0" ry="12.0" fill="url(#gC)"/>
<ellipse cx="1333.8" cy="128.4" rx="9.0" ry="12.0" fill="url(#gC)"/>
<ellipse cx="1326.0" cy="142.1" rx="9.0" ry="12.0" fill="url(#gN)"/>
<ellipse cx="1374.8" cy="89.3" rx="7.0" ry="8.0" fill="url(#gH)"/>
<ellipse cx="1382.6" cy="101.0" rx="10.0" ry="11.0" fill="url(#gC)"/>
<ellipse cx="1362.1" cy="107.9" rx="9.0" ry="12.0" fill="url(#gN)"/>
<ellipse cx="1382.6" cy="120.6" rx="9.0" ry="11.0" fill="url(#gC)"/>
<ellipse cx="1368.0" cy="128.4" rx="9.0" ry="12.0" fill="url(#gN)"/>
<ellipse cx="1381.7" cy="144.0" rx="10.0" ry="12.0" fill="url(#gC)"/>
<ellipse cx="1356.3" cy="148.9" rx="9.0" ry="11.0" fill="url(#gC)"/>
<ellipse cx="1357.2" cy="161.6" rx="7.0" ry="8.0" fill="url(#gH)"/>
<ellipse cx="1415.8" cy="112.8" rx="9.0" ry="11.0" fill="url(#gC)"/>
<ellipse cx="1413.9" cy="126.4" rx="9.0" ry="12.0" fill="url(#gN)"/>
<ellipse cx="1408.0" cy="147.0" rx="7.0" ry="8.0" fill="url(#gH)"/>
<ellipse cx="1437.3" cy="114.7" rx="6.0" ry="8.0" fill="url(#gH)"/>
<line x1="1573.2" y1="181.4" x2="1578.9" y2="199.7" stroke="#c4c4c4" stroke-width="1.7"/>
<line x1="1523.0" y1="196.2" x2="1539.0" y2="200.8" stroke="#c4c4c4" stroke-width="1.7"/>
<line x1="1523.0" y1="196.2" x2="1502.5" y2="211.1" stroke="#c4c4c4" stroke-width="1.7"/>
<line x1="1523.0" y1="196.2" x2="1528.7" y2="228.2" stroke="#c4c4c4" stroke-width="1.7"/>
<line x1="1539.0" y1="200.8" x2="1564.0" y2="211.1" stroke="#c4c4c4" stroke-width="1.7"/>
<line x1="1539.0" y1="200.8" x2="1528.7" y2="228.2" stroke="#c4c4c4" stroke-width="1.7"/>
<line x1="1578.9" y1="199.7" x2="1564.0" y2="211.1" stroke="#c4c4c4" stroke-width="1.7"/>
<line x1="1578.9" y1="199.7" x2="1601.7" y2="209.9" stroke="#c4c4c4" stroke-width="1.7"/>
<line x1="1578.9" y1="199.7" x2="1576.6" y2="227.0" stroke="#c4c4c4" stroke-width="1.7"/>
<line x1="1564.0" y1="211.1" x2="1576.6" y2="227.0" stroke="#c4c4c4" stroke-width="1.7"/>
<line x1="1564.0" y1="211.1" x2="1567.5" y2="241.9" stroke="#c4c4c4" stroke-width="1.7"/>
<line x1="1601.7" y1="209.9" x2="1618.8" y2="207.6" stroke="#c4c4c4" stroke-width="1.7"/>
<line x1="1601.7" y1="209.9" x2="1576.6" y2="227.0" stroke="#c4c4c4" stroke-width="1.7"/>
<line x1="1601.7" y1="209.9" x2="1600.5" y2="230.4" stroke="#c4c4c4" stroke-width="1.7"/>
<line x1="1485.4" y1="208.8" x2="1502.5" y2="211.1" stroke="#c4c4c4" stroke-width="1.7"/>
<line x1="1502.5" y1="211.1" x2="1504.7" y2="230.4" stroke="#c4c4c4" stroke-width="1.7"/>
<line x1="1502.5" y1="211.1" x2="1528.7" y2="228.2" stroke="#c4c4c4" stroke-width="1.7"/>
<line x1="1504.7" y1="230.4" x2="1528.7" y2="228.2" stroke="#c4c4c4" stroke-width="1.7"/>
<line x1="1504.7" y1="230.4" x2="1493.3" y2="247.6" stroke="#c4c4c4" stroke-width="1.7"/>
<line x1="1528.7" y1="228.2" x2="1542.4" y2="244.1" stroke="#c4c4c4" stroke-width="1.7"/>
<line x1="1576.6" y1="227.0" x2="1600.5" y2="230.4" stroke="#c4c4c4" stroke-width="1.7"/>
<line x1="1576.6" y1="227.0" x2="1567.5" y2="241.9" stroke="#c4c4c4" stroke-width="1.7"/>
<line x1="1576.6" y1="227.0" x2="1577.7" y2="260.1" stroke="#c4c4c4" stroke-width="1.7"/>
<line x1="1600.5" y1="230.4" x2="1567.5" y2="241.9" stroke="#c4c4c4" stroke-width="1.7"/>
<line x1="1542.4" y1="244.1" x2="1567.5" y2="241.9" stroke="#c4c4c4" stroke-width="1.7"/>
<line x1="1542.4" y1="244.1" x2="1537.8" y2="263.5" stroke="#c4c4c4" stroke-width="1.7"/>
<line x1="1542.4" y1="244.1" x2="1558.3" y2="271.5" stroke="#c4c4c4" stroke-width="1.7"/>
<line x1="1567.5" y1="241.9" x2="1577.7" y2="260.1" stroke="#c4c4c4" stroke-width="1.7"/>
<line x1="1567.5" y1="241.9" x2="1558.3" y2="271.5" stroke="#c4c4c4" stroke-width="1.7"/>
<line x1="1537.8" y1="263.5" x2="1558.3" y2="271.5" stroke="#c4c4c4" stroke-width="1.7"/>
<line x1="1577.7" y1="260.1" x2="1596.0" y2="263.5" stroke="#c4c4c4" stroke-width="1.7"/>
<line x1="1577.7" y1="260.1" x2="1558.3" y2="271.5" stroke="#c4c4c4" stroke-width="1.7"/>
<line x1="1558.3" y1="271.5" x2="1559.5" y2="290.9" stroke="#c4c4c4" stroke-width="1.7"/>
<ellipse cx="1573.2" cy="181.4" rx="5.0" ry="6.4" fill="url(#gH)"/>
<ellipse cx="1523.0" cy="196.2" rx="7.3" ry="11.0" fill="url(#gN)"/>
<ellipse cx="1539.0" cy="200.8" rx="8.0" ry="11.0" fill="url(#gC)"/>
<ellipse cx="1578.9" cy="199.7" rx="8.0" ry="11.0" fill="url(#gC)"/>
<ellipse cx="1564.0" cy="211.1" rx="7.3" ry="11.0" fill="url(#gN)"/>
<ellipse cx="1601.7" cy="209.9" rx="7.3" ry="10.3" fill="url(#gC)"/>
<ellipse cx="1618.8" cy="207.6" rx="5.0" ry="6.4" fill="url(#gH)"/>
<ellipse cx="1485.4" cy="208.8" rx="5.0" ry="6.4" fill="url(#gH)"/>
<ellipse cx="1502.5" cy="211.1" rx="7.3" ry="10.3" fill="url(#gC)"/>
<ellipse cx="1504.7" cy="230.4" rx="8.0" ry="11.0" fill="url(#gC)"/>
<ellipse cx="1528.7" cy="228.2" rx="7.3" ry="11.0" fill="url(#gN)"/>
<ellipse cx="1576.6" cy="227.0" rx="8.0" ry="11.0" fill="url(#gC)"/>
<ellipse cx="1600.5" cy="230.4" rx="7.3" ry="11.0" fill="url(#gN)"/>
<ellipse cx="1493.3" cy="247.6" rx="5.0" ry="6.4" fill="url(#gH)"/>
<ellipse cx="1542.4" cy="244.1" rx="8.0" ry="11.0" fill="url(#gC)"/>
<ellipse cx="1567.5" cy="241.9" rx="7.3" ry="11.0" fill="url(#gN)"/>
<ellipse cx="1537.8" cy="263.5" rx="7.3" ry="11.0" fill="url(#gN)"/>
<ellipse cx="1577.7" cy="260.1" rx="8.0" ry="11.0" fill="url(#gC)"/>
<ellipse cx="1596.0" cy="263.5" rx="5.0" ry="6.4" fill="url(#gH)"/>
<ellipse cx="1558.3" cy="271.5" rx="8.0" ry="11.0" fill="url(#gC)"/>
<ellipse cx="1559.5" cy="290.9" rx="5.0" ry="6.4" fill="url(#gH)"/>
<line x1="1542.2" y1="379.0" x2="1550.2" y2="397.3" stroke="#c4c4c4" stroke-width="1.7"/>
<line x1="1542.2" y1="379.0" x2="1567.3" y2="365.3" stroke="#c4c4c4" stroke-width="1.7"/>
<line x1="1550.2" y1="397.3" x2="1535.3" y2="410.9" stroke="#c4c4c4" stroke-width="1.7"/>
<line x1="1550.2" y1="397.3" x2="1583.2" y2="391.6" stroke="#c4c4c4" stroke-width="1.7"/>
<line x1="1567.3" y1="365.3" x2="1583.2" y2="391.6" stroke="#c4c4c4" stroke-width="1.7"/>
<line x1="1567.3" y1="365.3" x2="1592.3" y2="366.5" stroke="#c4c4c4" stroke-width="1.7"/>
<line x1="1583.2" y1="391.6" x2="1592.3" y2="366.5" stroke="#c4c4c4" stroke-width="1.7"/>
<line x1="1583.2" y1="391.6" x2="1604.9" y2="404.1" stroke="#c4c4c4" stroke-width="1.7"/>
<line x1="1583.2" y1="391.6" x2="1600.3" y2="422.3" stroke="#c4c4c4" stroke-width="1.7"/>
<line x1="1592.3" y1="366.5" x2="1624.3" y2="376.7" stroke="#c4c4c4" stroke-width="1.7"/>
<line x1="1604.9" y1="404.1" x2="1600.3" y2="422.3" stroke="#c4c4c4" stroke-width="1.7"/>
<line x1="1604.9" y1="404.1" x2="1624.3" y2="376.7" stroke="#c4c4c4" stroke-width="1.7"/>
<line x1="1604.9" y1="404.1" x2="1636.8" y2="404.1" stroke="#c4c4c4" stroke-width="1.7"/>
<line x1="1600.3" y1="422.3" x2="1632.2" y2="430.3" stroke="#c4c4c4" stroke-width="1.7"/>
<line x1="1628.8" y1="352.8" x2="1641.4" y2="367.6" stroke="#c4c4c4" stroke-width="1.7"/>
<line x1="1641.4" y1="367.6" x2="1624.3" y2="376.7" stroke="#c4c4c4" stroke-width="1.7"/>
<line x1="1641.4" y1="367.6" x2="1647.1" y2="393.8" stroke="#c4c4c4" stroke-width="1.7"/>
<line x1="1641.4" y1="367.6" x2="1675.6" y2="376.7" stroke="#c4c4c4" stroke-width="1.7"/>
<line x1="1624.3" y1="376.7" x2="1647.1" y2="393.8" stroke="#c4c4c4" stroke-width="1.7"/>
<line x1="1624.3" y1="376.7" x2="1636.8" y2="404.1" stroke="#c4c4c4" stroke-width="1.7"/>
<line x1="1647.1" y1="393.8" x2="1636.8" y2="404.1" stroke="#c4c4c4" stroke-width="1.7"/>
<line x1="1647.1" y1="393.8" x2="1675.6" y2="376.7" stroke="#c4c4c4" stroke-width="1.7"/>
<line x1="1647.1" y1="393.8" x2="1676.7" y2="396.1" stroke="#c4c4c4" stroke-width="1.7"/>
<line x1="1647.1" y1="393.8" x2="1653.9" y2="420.0" stroke="#c4c4c4" stroke-width="1.7"/>
<line x1="1636.8" y1="404.1" x2="1653.9" y2="420.0" stroke="#c4c4c4" stroke-width="1.7"/>
<line x1="1636.8" y1="404.1" x2="1632.2" y2="430.3" stroke="#c4c4c4" stroke-width="1.7"/>
<line x1="1675.6" y1="376.7" x2="1692.7" y2="376.7" stroke="#c4c4c4" stroke-width="1.7"/>
<line x1="1675.6" y1="376.7" x2="1676.7" y2="396.1" stroke="#c4c4c4" stroke-width="1.7"/>
<line x1="1676.7" y1="396.1" x2="1653.9" y2="420.0" stroke="#c4c4c4" stroke-width="1.7"/>
<line x1="1653.9" y1="420.0" x2="1632.2" y2="430.3" stroke="#c4c4c4" stroke-width="1.7"/>
<line x1="1632.2" y1="430.3" x2="1635.7" y2="444.0" stroke="#c4c4c4" stroke-width="1.7"/>
<ellipse cx="1518.2" cy="379.0" rx="6.4" ry="8.7" fill="url(#gH)"/>
<ellipse cx="1542.2" cy="379.0" rx="9.0" ry="12.5" fill="url(#gC)"/>
<ellipse cx="1550.2" cy="397.3" rx="9.0" ry="12.5" fill="url(#gC)"/>
<ellipse cx="1535.3" cy="410.9" rx="6.8" ry="8.7" fill="url(#gH)"/>
<ellipse cx="1567.3" cy="365.3" rx="9.0" ry="12.5" fill="url(#gN)"/>
<ellipse cx="1583.2" cy="391.6" rx="9.0" ry="12.5" fill="url(#gN)"/>
<ellipse cx="1592.3" cy="366.5" rx="9.0" ry="12.5" fill="url(#gC)"/>
<ellipse cx="1604.9" cy="404.1" rx="9.0" ry="12.5" fill="url(#gC)"/>
<ellipse cx="1600.3" cy="422.3" rx="9.0" ry="12.5" fill="url(#gN)"/>
<ellipse cx="1628.8" cy="352.8" rx="6.8" ry="8.7" fill="url(#gH)"/>
<ellipse cx="1641.4" cy="367.6" rx="9.0" ry="12.5" fill="url(#gC)"/>
<ellipse cx="1624.3" cy="376.7" rx="9.0" ry="12.5" fill="url(#gN)"/>
<ellipse cx="1647.1" cy="393.8" rx="9.0" ry="12.5" fill="url(#gC)"/>
<ellipse cx="1636.8" cy="404.1" rx="9.0" ry="12.5" fill="url(#gN)"/>
<ellipse cx="1675.6" cy="376.7" rx="9.0" ry="12.5" fill="url(#gC)"/>
<ellipse cx="1692.7" cy="376.7" rx="6.8" ry="8.7" fill="url(#gH)"/>
<ellipse cx="1676.7" cy="396.1" rx="9.0" ry="12.5" fill="url(#gN)"/>
<ellipse cx="1653.9" cy="420.0" rx="9.0" ry="12.5" fill="url(#gC)"/>
<ellipse cx="1632.2" cy="430.3" rx="9.0" ry="12.5" fill="url(#gC)"/>
<ellipse cx="1635.7" cy="444.0" rx="6.8" ry="8.7" fill="url(#gH)"/>
<ellipse cx="1680.1" cy="421.2" rx="6.8" ry="8.7" fill="url(#gH)"/>
<line x1="434.5" y1="43.8" x2="456.8" y2="77.7" stroke="#4aa8d8" stroke-width="1.1"/>
<line x1="427.1" y1="73.4" x2="440.9" y2="94.6" stroke="#4aa8d8" stroke-width="1.8" stroke-dasharray="3 1.2"/>
<line x1="331.8" y1="72.4" x2="326.5" y2="91.4" stroke="#4aa8d8" stroke-width="1.3" stroke-dasharray="3 1.2"/>
<line x1="344.5" y1="90.4" x2="341.3" y2="97.8" stroke="#4aa8d8" stroke-width="1.3" stroke-dasharray="3 1.2"/>
<line x1="412.3" y1="123.2" x2="414.4" y2="133.6" stroke="#4aa8d8" stroke-width="1.3" stroke-dasharray="3 1.2"/>
<line x1="553.3" y1="121.8" x2="616.8" y2="190.1" stroke="#4aa8d8" stroke-width="1.1"/>
<line x1="589.9" y1="98.5" x2="604.6" y2="102.2" stroke="#4aa8d8" stroke-width="1.3" stroke-dasharray="3 1.2"/>
<line x1="607" y1="121.8" x2="616.8" y2="126.6" stroke="#4aa8d8" stroke-width="1.3" stroke-dasharray="3 1.2"/>
<line x1="493.4" y1="187.7" x2="502" y2="207.2" stroke="#4aa8d8" stroke-width="1.2" stroke-dasharray="3 1.2"/>
<line x1="504.4" y1="217" x2="513" y2="225.6" stroke="#4aa8d8" stroke-width="1.2" stroke-dasharray="3 1.2"/>
<line x1="566.8" y1="285" x2="585.1" y2="279.3" stroke="#4aa8d8" stroke-width="1.3" stroke-dasharray="3 1.2"/>
<line x1="603.3" y1="286.1" x2="612.4" y2="283.8" stroke="#4aa8d8" stroke-width="1.3" stroke-dasharray="3 1.2"/>
<line x1="597.6" y1="306.6" x2="711.6" y2="328.3" stroke="#4aa8d8" stroke-width="1.3" stroke-dasharray="3 1.2"/>
<line x1="563.4" y1="311.2" x2="574.8" y2="314.6" stroke="#4aa8d8" stroke-width="1.2" stroke-dasharray="3 1.2"/>
<line x1="593" y1="323.7" x2="605.6" y2="323.7" stroke="#4aa8d8" stroke-width="2.2" stroke-dasharray="3 1.2"/>
<line x1="643.2" y1="230.3" x2="652.3" y2="231.4" stroke="#4aa8d8" stroke-width="1.3" stroke-dasharray="3 1.2"/>
<line x1="763.4" y1="409" x2="831.8" y2="385.1" stroke="#4aa8d8" stroke-width="1.3" stroke-dasharray="3 1.2"/>
<line x1="806.7" y1="397.6" x2="813.6" y2="419.3" stroke="#4aa8d8" stroke-width="1.2" stroke-dasharray="3 1.2"/>
<line x1="698.5" y1="407.8" x2="720.1" y2="408.3" stroke="#4aa8d8" stroke-width="1.4" stroke-dasharray="3 1.2"/>
<line x1="719" y1="364.6" x2="724.7" y2="369.1" stroke="#4aa8d8" stroke-width="1.2" stroke-dasharray="3 1.2"/>
<line x1="701.9" y1="462.6" x2="706.5" y2="468.2" stroke="#4aa8d8" stroke-width="1.2" stroke-dasharray="3 1.2"/>
<line x1="1443.2" y1="79.5" x2="1438.3" y2="105.9" stroke="#4aa8d8" stroke-width="1.3" stroke-dasharray="3 1.2"/>
<line x1="1269.3" y1="138.2" x2="1276.1" y2="149.9" stroke="#4aa8d8" stroke-width="1.3" stroke-dasharray="3 1.2"/>
<line x1="1304.5" y1="76" x2="1305.5" y2="82" stroke="#4aa8d8" stroke-width="1.3" stroke-dasharray="3 1.2"/>
<line x1="1332.8" y1="71.7" x2="1332.8" y2="78.6" stroke="#4aa8d8" stroke-width="1.3" stroke-dasharray="3 1.2"/>
<line x1="1499" y1="174.6" x2="1489.9" y2="199.7" stroke="#4aa8d8" stroke-width="1.3" stroke-dasharray="3 1.2"/>
<line x1="1467.1" y1="236.1" x2="1487.6" y2="244.1" stroke="#4aa8d8" stroke-width="1.5" stroke-dasharray="3 1.2"/>
<line x1="1564" y1="288.6" x2="1576.6" y2="286.3" stroke="#4aa8d8" stroke-width="1.3" stroke-dasharray="3 1.2"/>
<line x1="1597" y1="251" x2="1598" y2="260" stroke="#4aa8d8" stroke-width="1.3" stroke-dasharray="3 1.2"/>
<line x1="1663" y1="355.1" x2="1687" y2="373.3" stroke="#4aa8d8" stroke-width="1.6" stroke-dasharray="3 1.2"/>
<line x1="1523.9" y1="371" x2="1534.2" y2="357.4" stroke="#4aa8d8" stroke-width="1.3" stroke-dasharray="3 1.2"/>
<line x1="1610.6" y1="447.4" x2="1627.7" y2="446.3" stroke="#4aa8d8" stroke-width="1.5" stroke-dasharray="3 1.2"/>
<line x1="1636.8" y1="351.7" x2="1643.6" y2="351.7" stroke="#4aa8d8" stroke-width="1.3" stroke-dasharray="3 1.2"/>
<line x1="316.6" y1="128.2" x2="192.8" y2="196.6" stroke="#22e6f2" stroke-width="1.3"/>
<polygon points="181.4,202.9 190.8,193.1 194.7,200.1" fill="#22e6f2"/>
<line x1="489.6" y1="218.3" x2="305.0" y2="252.2" stroke="#4040ff" stroke-width="1.2"/>
<polygon points="292.2,254.5 304.3,248.4 305.7,255.9" fill="#2a2aff"/>
<line x1="570.6" y1="315.4" x2="510.0" y2="351.5" stroke="#1f8f1f" stroke-width="1.3"/>
<polygon points="498.8,358.1 507.9,348.0 512.0,354.9" fill="#1f8f1f"/>
<line x1="692.8" y1="428.0" x2="526.6" y2="453.4" stroke="#a6f0fb" stroke-width="1.3"/>
<polygon points="513.7,455.4 525.9,449.5 527.2,457.4" fill="#a6f0fb"/>
<line x1="1282.1" y1="165.4" x2="1201.3" y2="188.6" stroke="#f23a3a" stroke-width="1.1"/>
<polygon points="1187.8,192.5 1200.0,184.3 1202.5,193.0" fill="#f21a1a"/>
<line x1="1460.4" y1="247.0" x2="1413.7" y2="304.7" stroke="#3030f0" stroke-width="1.3"/>
<polygon points="1406.2,314.0 1410.8,302.3 1416.7,307.1" fill="#3030f0"/>
<line x1="1507.9" y1="405.4" x2="1432.5" y2="405.4" stroke="#8a8a8a" stroke-width="1.6"/>
<polygon points="1419.5,405.4 1432.5,401.4 1432.5,409.4" fill="#111"/>
</svg>
</body></html>
